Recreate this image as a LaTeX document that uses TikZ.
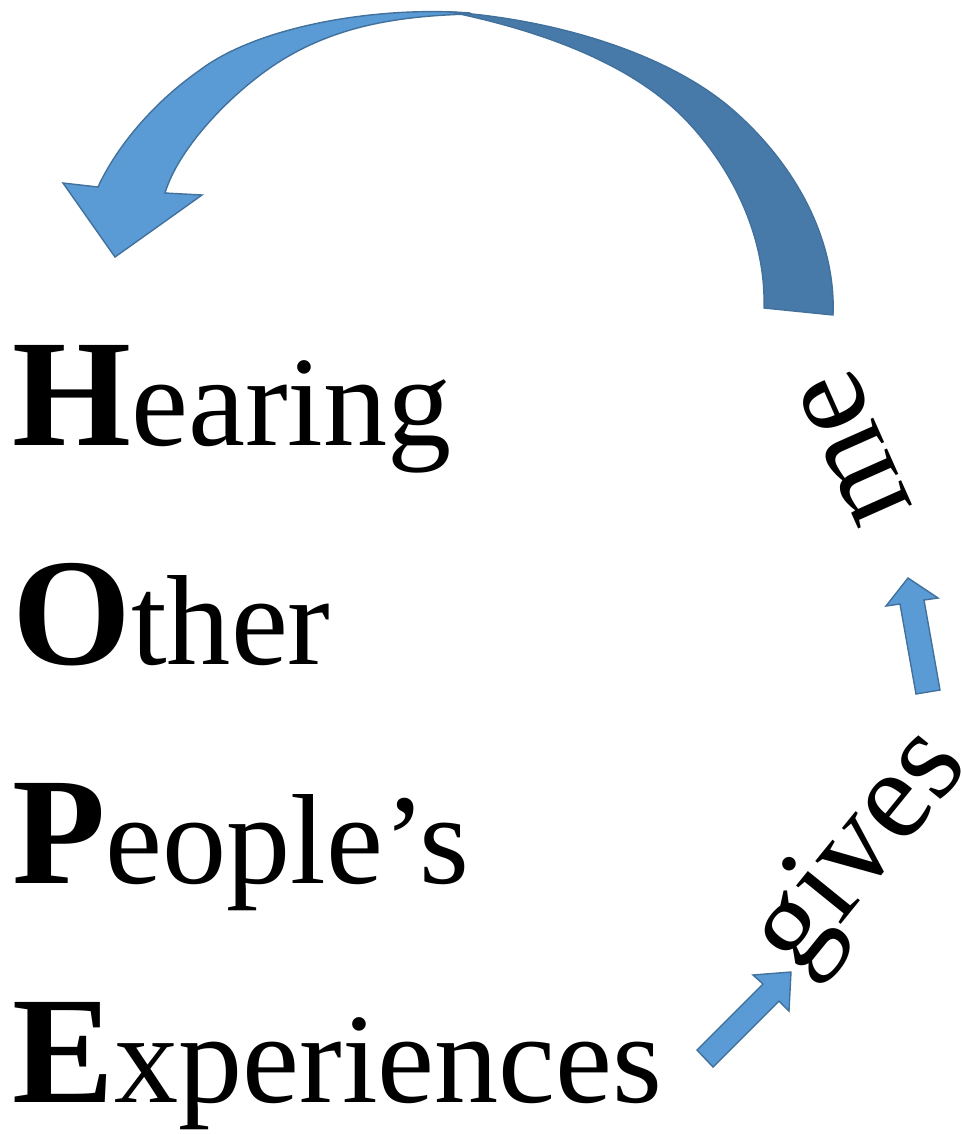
\documentclass[tikz,border=0pt]{standalone}
\usepackage{fontspec}
\setmainfont{Liberation Serif}
\usepackage{xcolor}
\usetikzlibrary{calc, positioning}

\definecolor{arrowblue}{RGB}{91,155,213}
\definecolor{arrowdark}{RGB}{71,122,168}
\definecolor{arrowline}{RGB}{65,113,156}

\newcommand{\initcap}[1]{{\fontsize{87}{87}\selectfont\bfseries #1}}

\begin{document}
\begin{tikzpicture}[x=0.02cm, y=-0.02cm,
    word/.style={inner sep=0pt, anchor=base west, font=\fontsize{73}{73}\selectfont},
    tilted/.style={inner sep=0pt, font=\fontsize{73}{73}\selectfont},
    blockarrow/.style={fill=arrowblue, draw=arrowline, line width=0.8pt, line join=miter},
    backband/.style={fill=arrowdark, draw=arrowline, line width=0.8pt}]
    \useasboundingbox (0,0) rectangle (962,1134);

    % 1. The four lines H - O - P - E
    \node[word] (hearing) at (12,445) {\initcap{H}earing};
    \node[word] (other) at (12,664) {\initcap{O}ther};
    \node[word] (peoples) at (12,883) {\initcap{P}eople’s};
    \node[word] (experiences) at (12,1102) {\initcap{E}xperiences};

    % 2. Tilted words on the right
    \node[tilted, rotate=51] (gives) at (862,853) {gives};
    \node[tilted, rotate=114] (me) at (855,448) {me};

    % 3. Small block arrows
    \draw[blockarrow] (697,1050) -- (763,984) -- (753,975) -- (791,972)
        -- (789,1011) -- (779,1001) -- (713,1067) -- cycle;
    \draw[blockarrow] (916,694) -- (900,604) -- (886,606) -- (908,578)
        -- (938,598) -- (924,600) -- (940,690) -- cycle;

    % 4. Big curved arrow: front (light) part with the head
    \draw[blockarrow] (470,13) .. controls (380,6) and (260,25) .. (200,70)
        .. controls (150,105) and (115,150) .. (98,187)
        -- (63,183) -- (115,257) -- (202,195) -- (165,193)
        .. controls (178,150) and (225,100) .. (267,70)
        .. controls (330,25) and (400,16) .. (470,14) -- cycle;

    % back (dark) part with the tail
    \draw[backband] (450,12) .. controls (560,20) and (670,55) .. (733,110)
        .. controls (796,165) and (836,240) .. (833,315)
        -- (764,308) .. controls (766,240) and (735,170) .. (683,117)
        .. controls (630,64) and (545,32) .. (455,13) -- cycle;
\end{tikzpicture}
\end{document}
